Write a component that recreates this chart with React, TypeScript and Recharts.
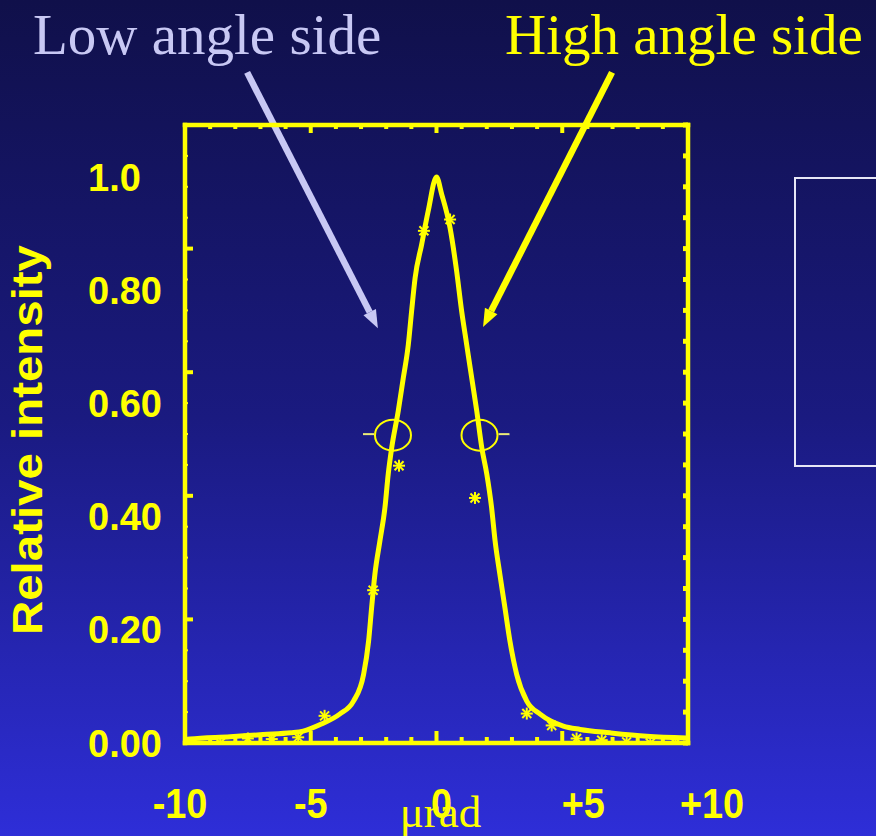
import React from 'react';
import { ComposedChart, Line, Scatter, XAxis, YAxis, ReferenceLine } from 'recharts';

// ---- data ----
const CURVE_X = [-10.0, -9.8, -8.2, -6.9, -5.8, -5.3, -4.6, -3.85, -3.3, -2.9, -2.7, -2.58, -2.45, -2.25, -2.05, -1.92, -1.78, -1.52, -1.32, -1.12, -0.99, -0.85, -0.59, -0.33, 0.0, 0.21, 0.54, 0.8, 1.0, 1.2, 1.4, 1.6, 1.8, 2.0, 2.19, 2.33, 2.52, 2.72, 2.92, 3.19, 3.59, 4.12, 5.04, 5.71, 6.9, 8.36, 9.95];
const CURVE_Y = [0.006, 0.007, 0.011, 0.015, 0.018, 0.021, 0.033, 0.051, 0.074, 0.121, 0.18, 0.239, 0.298, 0.357, 0.416, 0.475, 0.522, 0.587, 0.645, 0.704, 0.763, 0.822, 0.881, 0.94, 1.0, 0.969, 0.91, 0.834, 0.763, 0.704, 0.645, 0.587, 0.522, 0.475, 0.416, 0.357, 0.298, 0.239, 0.18, 0.121, 0.074, 0.051, 0.03, 0.024, 0.018, 0.012, 0.009];

const POINT_X = [-9.7, -8.6, -7.5, -6.55, -5.5, -4.45, -2.52, -1.49, -0.5, 0.54, 1.53, 3.59, 4.58, 5.57, 6.57, 7.56, 8.5, 9.5];
const POINT_Y = [0.0, 0.0, 0.008, 0.007, 0.01, 0.048, 0.27, 0.49, 0.905, 0.925, 0.433, 0.052, 0.031, 0.008, 0.005, 0.002, 0.0, 0.0];

const CIRCLE_X = [-1.73, 1.71];
const CIRCLE_Y = [0.544, 0.544];

const X_TICKS = [-10, -9, -8, -7, -6, -5, -4, -3, -2, -1, 0, 1, 2, 3, 4, 5, 6, 7, 8, 9, 10];
const X_LABEL_VALUES = [-10, -5, 0, 5, 10];
const X_LABELS = ['-10', '-5', '0', '+5', '+10'];
const Y_LABEL_VALUES = [0, 0.2, 0.4, 0.6, 0.8, 1.0];
const Y_LABELS = ['0.00', '0.20', '0.40', '0.60', '0.80', '1.0'];
const FRAME_TICKS = [0, 0.25, 0.5, 0.75, 1, 1.25, 1.5, 1.75, 2, 2.25, 2.5, 2.75, 3, 3.25, 3.5, 3.75, 4, 4.25, 4.5, 4.75, 5];
const FRAME_EXTENT_X = [-10, 10];
const FRAME_EXTENT_U = [0, 5];

const ARROW_LOW = [{ x: -7.53, y: 1.185 }, { x: -2.33, y: 0.733 }];
const ARROW_HIGH = [{ x: 6.98, y: 1.185 }, { x: 1.85, y: 0.735 }];

const curveData = CURVE_X.map((x, i) => ({ x, y: CURVE_Y[i] }));
const pointData = POINT_X.map((x, i) => ({ x, y: POINT_Y[i] }));
const circleData = CIRCLE_X.map((x, i) => ({ x, y: CIRCLE_Y[i] }));
const frameData = FRAME_EXTENT_X.map((x, i) => ({ x, u: FRAME_EXTENT_U[i] }));

// ---- styles ----
const YEL = '#ffff00';
const LAV = '#c8c8f4';
const SANS = '"Liberation Sans", Arial, sans-serif';
const SERIF = '"Liberation Serif", "Times New Roman", serif';
const X_NUDGE: Record<string, number> = { '-10': -5, '-5': 0, '0': 5, '+5': 21, '+10': 24 };

const BottomTick = (p: any) => {
  const v = p.payload.value;
  const major = v % 5 === 0;
  const idx = X_LABEL_VALUES.indexOf(v);
  const lab = idx >= 0 ? X_LABELS[idx] : null;
  return (
    <g>
      <line x1={p.x} x2={p.x} y1={p.y} y2={p.y - (major ? 12 : 6)} stroke={YEL} strokeWidth={4} />
      {lab !== null && (
        <text
          transform={`translate(${p.x + X_NUDGE[lab]},${p.y + 75}) scale(0.88,1)`}
          textAnchor="middle"
          fontFamily={SANS}
          fontWeight="bold"
          fontSize={43}
          fill={YEL}
        >
          {lab}
        </text>
      )}
    </g>
  );
};

const TopTick = (p: any) => {
  const v = p.payload.value;
  const major = v % 5 === 0;
  return <line x1={p.x} x2={p.x} y1={p.y} y2={p.y + (major ? 8 : 4)} stroke={YEL} strokeWidth={4} />;
};

const LeftFrameTick = (p: any) => {
  const v = p.payload.value;
  const major = Number.isInteger(v);
  return <line x1={p.x} x2={p.x + (major ? 8 : 3)} y1={p.y} y2={p.y} stroke={YEL} strokeWidth={major ? 4 : 2} />;
};

const RightFrameTick = (p: any) => (
  <line x1={p.x} x2={p.x - 5} y1={p.y} y2={p.y} stroke={YEL} strokeWidth={5} />
);

const ValueTick = (p: any) => {
  const idx = Y_LABEL_VALUES.findIndex((v) => Math.abs(v - p.payload.value) < 1e-6);
  return (
    <text x={p.x - 96} y={p.y + 13.5} textAnchor="start" fontFamily={SANS} fontWeight="bold" fontSize={38} fill={YEL}>
      {Y_LABELS[idx]}
    </text>
  );
};

const RelLabel = (p: any) => {
  const vb = p.viewBox || { x: 0, y: 125, width: 184, height: 618 };
  const cy = vb.y + vb.height / 2 + 6;
  return (
    <text
      transform={`translate(42,${cy}) rotate(-90)`}
      textAnchor="middle"
      fontFamily={SANS}
      fontWeight="bold"
      fontSize={42}
      fill={YEL}
      textLength={390}
      lengthAdjust="spacingAndGlyphs"
    >
      Relative intensity
    </text>
  );
};

const UnitLabel = (p: any) => {
  const vb = p.viewBox || { x: 185, y: 743, width: 503, height: 93 };
  return (
    <text x={vb.x + vb.width / 2 + 4} y={vb.y + 84} textAnchor="middle" fontFamily={SERIF} fontSize={45} fill={YEL}>
      μrad
    </text>
  );
};

const arrowShape = (color: string) => (p: any) => {
  const { x1, y1, x2, y2 } = p;
  const dx = x2 - x1;
  const dy = y2 - y1;
  const L = Math.hypot(dx, dy) || 1;
  const ux = dx / L;
  const uy = dy / L;
  const hl = 18;
  const hw = 7;
  const bx = x2 - ux * hl;
  const by = y2 - uy * hl;
  return (
    <g>
      <line x1={x1} y1={y1} x2={bx} y2={by} stroke={color} strokeWidth={6.5} />
      <polygon points={`${x2},${y2} ${bx - uy * hw},${by + ux * hw} ${bx + uy * hw},${by - ux * hw}`} fill={color} />
    </g>
  );
};

const StarShape = (p: any) => {
  const { cx, cy } = p;
  const r = 6;
  const d = 4.5;
  return (
    <g stroke={YEL} strokeWidth={2}>
      <line x1={cx} y1={cy - r} x2={cx} y2={cy + r} />
      <line x1={cx - r} y1={cy} x2={cx + r} y2={cy} />
      <line x1={cx - d} y1={cy - d} x2={cx + d} y2={cy + d} />
      <line x1={cx - d} y1={cy + d} x2={cx + d} y2={cy - d} />
    </g>
  );
};

const CircleShape = (p: any) => {
  const { cx, cy, payload } = p;
  const side = payload && payload.x < 0 ? -1 : 1;
  return (
    <g>
      <ellipse cx={cx} cy={cy} rx={18} ry={15.5} fill="none" stroke={YEL} strokeWidth={2} />
      <line x1={cx + side * 19} x2={cx + side * 30} y1={cy - 1} y2={cy - 1} stroke="#ecec78" strokeWidth={2} />
    </g>
  );
};

const axisLine = { stroke: YEL, strokeWidth: 4.5, strokeLinecap: 'square' as const };

export default function App() {
  return (
    <div
      style={{
        position: 'absolute',
        left: 0,
        top: 0,
        width: 876,
        height: 836,
        overflow: 'hidden',
        background: 'linear-gradient(180deg, #10104a 0%, #1a1a80 50%, #2e2ed8 100%)',
      }}
    >
      <div style={{ position: 'absolute', left: 33, top: 4, fontFamily: SERIF, fontSize: 57, lineHeight: 1.1, color: LAV, whiteSpace: 'nowrap' }}>
        Low angle side
      </div>
      <div style={{ position: 'absolute', left: 505, top: 4, fontFamily: SERIF, fontSize: 57, lineHeight: 1.1, color: YEL, whiteSpace: 'nowrap' }}>
        High angle side
      </div>
      <div
        style={{
          position: 'absolute',
          left: 794,
          top: 177,
          width: 120,
          height: 286,
          border: '2px solid #e6e6f6',
        }}
      />
      <div style={{ position: 'absolute', left: 0, top: 0 }}>
        <ComposedChart width={876} height={836} margin={{ top: 124, right: 187, bottom: 0, left: 0 }}>
          <XAxis
            xAxisId="t"
            dataKey="x"
            orientation="top"
            type="number"
            domain={[-10, 10]}
            ticks={X_TICKS}
            interval={0}
            height={1}
            tickSize={0}
            tickMargin={0}
            tickLine={false}
            axisLine={axisLine}
            tick={TopTick}
            allowDataOverflow
          />
          <XAxis
            xAxisId="b"
            dataKey="x"
            type="number"
            domain={[-10, 10]}
            ticks={X_TICKS}
            interval={0}
            height={93}
            tickSize={0}
            tickMargin={0}
            tickLine={false}
            axisLine={axisLine}
            tick={BottomTick}
            allowDataOverflow
            label={{ value: 'μrad', content: UnitLabel }}
          />
          <YAxis
            yAxisId="tl"
            orientation="left"
            type="number"
            domain={[0, 5]}
            ticks={FRAME_TICKS}
            interval={0}
            width={1}
            tickSize={0}
            tickMargin={0}
            tickLine={false}
            axisLine={axisLine}
            tick={LeftFrameTick}
            allowDataOverflow
          />
          <YAxis
            yAxisId="v"
            orientation="left"
            type="number"
            domain={[0, 1.092]}
            ticks={Y_LABEL_VALUES}
            interval={0}
            width={184}
            tickSize={0}
            tickMargin={0}
            tickLine={false}
            axisLine={false}
            tick={ValueTick}
            allowDataOverflow
            label={{ value: 'Relative intensity', content: RelLabel }}
          />
          <YAxis
            yAxisId="tr"
            orientation="right"
            type="number"
            domain={[0, 5]}
            ticks={FRAME_TICKS}
            interval={0}
            width={1}
            tickSize={0}
            tickMargin={0}
            tickLine={false}
            axisLine={axisLine}
            tick={RightFrameTick}
            allowDataOverflow
          />
          <Line
            xAxisId="t"
            yAxisId="tl"
            data={frameData}
            dataKey="u"
            stroke="none"
            dot={false}
            activeDot={false}
            isAnimationActive={false}
          />
          <Line
            xAxisId="t"
            yAxisId="tr"
            data={frameData}
            dataKey="u"
            stroke="none"
            dot={false}
            activeDot={false}
            isAnimationActive={false}
          />
          <Scatter
            xAxisId="b"
            yAxisId="v"
            data={circleData}
            dataKey="y"
            shape={CircleShape}
            isAnimationActive={false}
          />
          <Line
            xAxisId="b"
            yAxisId="v"
            data={curveData}
            dataKey="y"
            type="monotone"
            stroke={YEL}
            strokeWidth={5}
            strokeLinejoin="round"
            dot={false}
            activeDot={false}
            isAnimationActive={false}
          />
          <Scatter
            xAxisId="b"
            yAxisId="v"
            data={pointData}
            dataKey="y"
            shape={StarShape}
            isAnimationActive={false}
          />
          <ReferenceLine
            xAxisId="b"
            yAxisId="v"
            segment={ARROW_LOW}
            ifOverflow="visible"
            stroke={LAV}
            shape={arrowShape(LAV)}
          />
          <ReferenceLine
            xAxisId="b"
            yAxisId="v"
            segment={ARROW_HIGH}
            ifOverflow="visible"
            stroke={YEL}
            shape={arrowShape(YEL)}
          />
        </ComposedChart>
      </div>
    </div>
  );
}
